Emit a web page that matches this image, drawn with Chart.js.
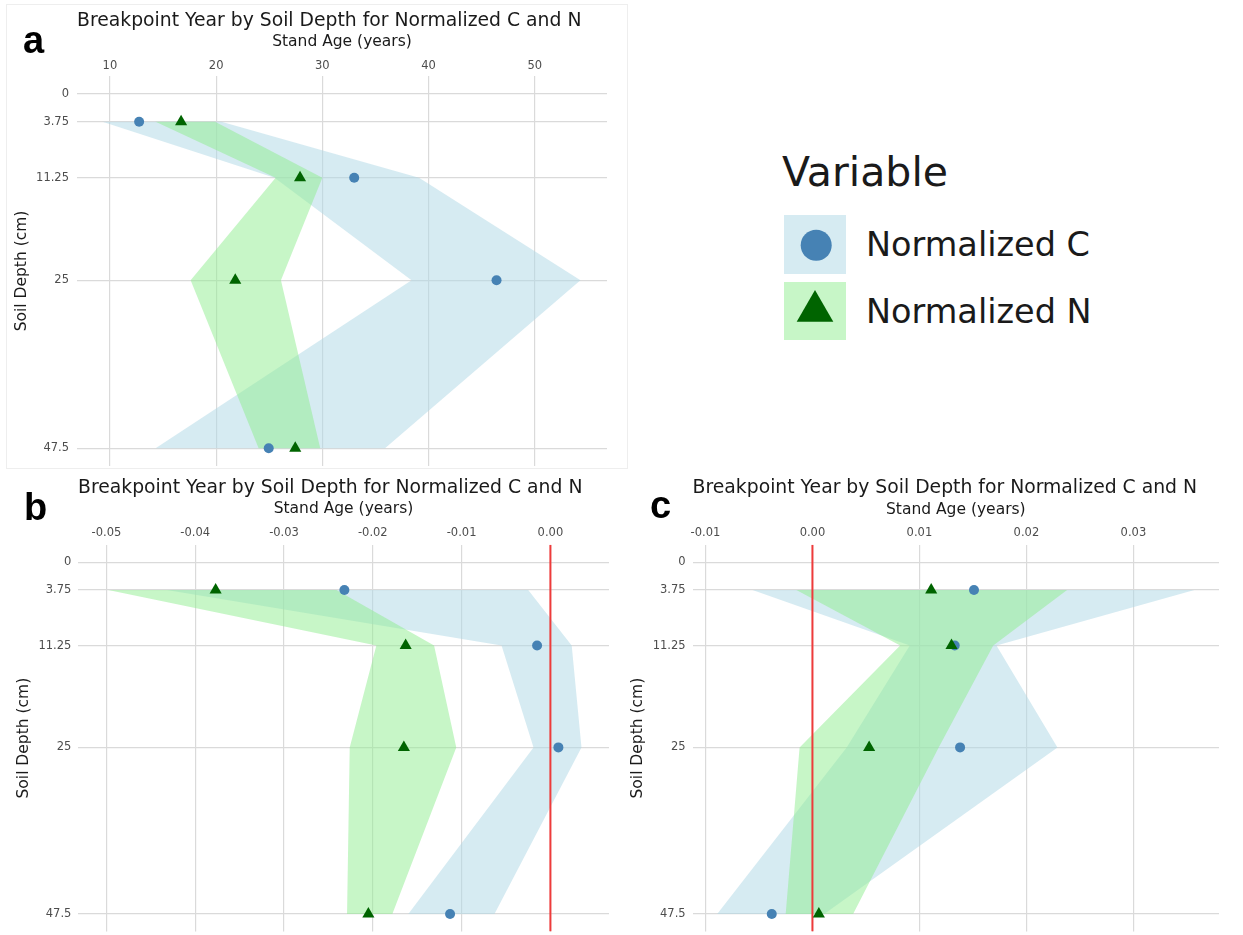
<!DOCTYPE html>
<html>
<head>
<meta charset="utf-8">
<script src="https://cdn.jsdelivr.net/npm/chart.js@4.4.1/dist/chart.umd.min.js"></script>
<style>
  body { margin: 0; background: #fff; width: 1243px; height: 935px; position: relative; overflow: hidden; font-family: "DejaVu Sans", sans-serif; }
  canvas { position: absolute; }
  .tag { position: absolute; font-family: "Liberation Sans", Arial, sans-serif; font-weight: bold; font-size: 38px; line-height: 38px; color: #000; }
  .lg { position: absolute; color: #1a1a1a; white-space: nowrap; }
  .key { position: absolute; width: 62px; }
  .frame { position: absolute; border: 1px solid #eeeeee; }
</style>
</head>
<body>
<div class="frame" style="left:6px;top:4px;width:620px;height:463px"></div>
<canvas id="pa" width="620" height="470" style="left:0;top:0"></canvas>
<canvas id="pb" width="620" height="465" style="left:0;top:470px"></canvas>
<canvas id="pc" width="623" height="465" style="left:620px;top:470px"></canvas>

<div class="tag" style="left:23px;top:21px">a</div>
<div class="tag" style="left:24px;top:488px">b</div>
<div class="tag" style="left:650px;top:486px">c</div>

<!-- legend -->
<div class="lg" style="left:782px;top:152px;font-size:41px;line-height:41px">Variable</div>
<div class="key" style="left:784px;top:215px;height:59px;background:rgba(173,216,230,0.5)">
  <svg width="62" height="59"><circle cx="32.2" cy="30.3" r="15.5" fill="#4682B4"/></svg>
</div>
<div class="key" style="left:784px;top:282px;height:58px;background:rgba(144,238,144,0.5)">
  <svg width="62" height="58"><polygon points="31,8 12.7,39.7 49.3,39.7" fill="#006400"/></svg>
</div>
<div class="lg" style="left:866px;top:228px;font-size:33.5px;line-height:33.5px">Normalized C</div>
<div class="lg" style="left:866px;top:295px;font-size:33.5px;line-height:33.5px">Normalized N</div>

<script>
// soil depths (cm) and the y-axis ticks
const depths = [3.75, 11.25, 25, 47.5];
const depthTicks = [0, 3.75, 11.25, 25, 47.5];
const depthLabels = ["0", "3.75", "11.25", "25", "47.5"];
const depthMin = -2.375;
const depthMax = 49.875;

// panel a
const aTicks = [10, 20, 30, 40, 50];
const aTickLabels = ["10", "20", "30", "40", "50"];
const aCarbon = [12.75, 33.0, 46.4, 24.95];
const aNitrogen = [16.7, 27.9, 21.8, 27.45];
const aCarbonLow = [9.3, 25.5, 38.4, 14.3];
const aCarbonHigh = [20.5, 39.1, 54.3, 35.9];
const aNitrogenLow = [14.3, 25.6, 17.6, 24.0];
const aNitrogenHigh = [19.9, 30.0, 26.1, 29.8];

// panel b
const bTicks = [-0.05, -0.04, -0.03, -0.02, -0.01, 0];
const bTickLabels = ["-0.05", "-0.04", "-0.03", "-0.02", "-0.01", "0.00"];
const bCarbon = [-0.0232, -0.0015, 0.0009, -0.0113];
const bNitrogen = [-0.0377, -0.0163, -0.0165, -0.0205];
const bCarbonLow = [-0.0432, -0.0055, -0.0019, -0.0160];
const bCarbonHigh = [-0.0025, 0.0024, 0.0035, -0.0063];
const bNitrogenLow = [-0.0498, -0.0196, -0.0226, -0.0229];
const bNitrogenHigh = [-0.0241, -0.0131, -0.0106, -0.0178];

// panel c
const cTicks = [-0.01, 0, 0.01, 0.02, 0.03];
const cTickLabels = ["-0.01", "0.00", "0.01", "0.02", "0.03"];
const cCarbon = [0.0151, 0.0133, 0.0138, -0.0038];
const cNitrogen = [0.0111, 0.0130, 0.0053, 0.0006];
const cCarbonLow = [-0.0056, 0.0091, 0.0032, -0.0089];
const cCarbonHigh = [0.0357, 0.0172, 0.0229, 0.0011];
const cNitrogenLow = [-0.0015, 0.0082, -0.0012, -0.0025];
const cNitrogenHigh = [0.0238, 0.0169, 0.0118, 0.0038];

const zeroLine = [0];

Chart.defaults.font.family = "DejaVu Sans";

function points(values) {
  return values.map((v, i) => ({ x: v, y: depths[i] }));
}

// lower edge down, upper edge back up -> closed polygon
function ribbon(low, high) {
  const pts = points(low);
  for (let i = high.length - 1; i >= 0; i--) pts.push({ x: high[i], y: depths[i] });
  return pts;
}

// keep label overhang from shrinking the plot area
function noPadding(axis) {
  axis.paddingLeft = 0;
  axis.paddingRight = 0;
  axis.paddingTop = 0;
  axis.paddingBottom = 0;
}

function makePanel(id, p) {
  const datasets = [
    {
      label: "Normalized N",
      data: points(p.n),
      showLine: false,
      pointStyle: "triangle",
      pointRadius: 7,
      pointBackgroundColor: "#006400",
      pointBorderWidth: 0,
    },
    {
      label: "Normalized C",
      data: points(p.c),
      showLine: false,
      pointStyle: "circle",
      pointRadius: 5,
      pointBackgroundColor: "#4682B4",
      pointBorderWidth: 0,
    },
  ];
  if (p.ref) {
    datasets.push({
      data: [{ x: zeroLine[0], y: depthMin }, { x: zeroLine[0], y: depthMax }],
      borderColor: "#ee3b3b",
      borderWidth: 2,
      pointRadius: 0,
      fill: false,
    });
  }
  datasets.push(
    {
      data: ribbon(p.nLo, p.nHi),
      backgroundColor: "rgba(144,238,144,0.5)",
      borderColor: "rgba(0,0,0,0)",
      borderWidth: 0,
      pointRadius: 0,
      fill: "shape",
    },
    {
      data: ribbon(p.cLo, p.cHi),
      backgroundColor: "rgba(173,216,230,0.5)",
      borderColor: "rgba(0,0,0,0)",
      borderWidth: 0,
      pointRadius: 0,
      fill: "shape",
    }
  );

  const g = p.geom;
  new Chart(document.getElementById(id), {
    type: "line",
    data: { datasets },
    options: {
      responsive: false,
      animation: false,
      events: [],
      devicePixelRatio: 1,
      layout: {
        autoPadding: false,
        padding: { left: 0, top: g.padTop, right: g.padRight, bottom: g.padBottom },
      },
      plugins: {
        legend: { display: false },
        tooltip: { enabled: false },
        title: {
          display: true,
          text: "Breakpoint Year by Soil Depth for Normalized C and N",
          align: "start",
          fullSize: false,
          color: "#1a1a1a",
          font: { size: 18.8, weight: "normal", lineHeight: 1.2 },
          padding: { top: 0, bottom: 0 },
        },
      },
      scales: {
        x: {
          type: "linear",
          position: "top",
          min: p.xMin,
          max: p.xMax,
          afterBuildTicks: (axis) => { axis.ticks = p.ticks.map((v) => ({ value: v })); },
          afterFit: (axis) => { axis.height = g.xAxisH; noPadding(axis); },
          ticks: {
            autoSkip: false,
            maxRotation: 0,
            padding: g.tickPad,
            color: "#4d4d4d",
            font: { size: 11.5 },
            callback: (v, i) => p.tickLabels[i],
          },
          grid: { color: "#dadada", lineWidth: 1.2, drawTicks: false },
          border: { display: false },
          title: {
            display: true,
            text: "Stand Age (years)",
            color: "#1a1a1a",
            font: { size: 15.5, lineHeight: 1.2 },
            padding: { top: g.xTitlePad, bottom: 0 },
          },
        },
        y: {
          type: "linear",
          reverse: true,
          min: depthMin,
          max: depthMax,
          afterBuildTicks: (axis) => { axis.ticks = depthTicks.map((v) => ({ value: v })); },
          afterFit: (axis) => { axis.width = g.yAxisW; noPadding(axis); },
          ticks: {
            autoSkip: false,
            padding: g.yTickPad,
            color: "#4d4d4d",
            font: { size: 11.5 },
            callback: (v, i) => depthLabels[i],
          },
          grid: { color: "#dadada", lineWidth: 1.2, drawTicks: false },
          border: { display: false },
          title: {
            display: true,
            text: "Soil Depth (cm)",
            color: "#1a1a1a",
            font: { size: 15.5, lineHeight: 1.2 },
            padding: { top: g.yTitlePad, bottom: 0 },
          },
        },
      },
    },
  });
}

makePanel("pa", {
  ticks: aTicks, tickLabels: aTickLabels, xMin: 6.9, xMax: 56.8,
  c: aCarbon, n: aNitrogen, cLo: aCarbonLow, cHi: aCarbonHigh, nLo: aNitrogenLow, nHi: aNitrogenHigh,
  ref: false,
  geom: { padTop: 9.4, padRight: 13, padBottom: 4, xAxisH: 44.0, tickPad: 3.4, xTitlePad: 1.0, yAxisW: 77, yTickPad: 8, yTitlePad: 12.4 },
});

makePanel("pb", {
  ticks: bTicks, tickLabels: bTickLabels, xMin: -0.0532, xMax: 0.0066,
  c: bCarbon, n: bNitrogen, cLo: bCarbonLow, cHi: bCarbonHigh, nLo: bNitrogenLow, nHi: bNitrogenHigh,
  ref: true,
  geom: { padTop: 7.0, padRight: 11, padBottom: 3.4, xAxisH: 45.1, tickPad: 4.5, xTitlePad: 0.4, yAxisW: 78, yTickPad: 6.6, yTitlePad: 14.5 },
});

makePanel("pc", {
  ticks: cTicks, tickLabels: cTickLabels, xMin: -0.0112, xMax: 0.0380,
  c: cCarbon, n: cNitrogen, cLo: cCarbonLow, cHi: cCarbonHigh, nLo: cNitrogenLow, nHi: cNitrogenHigh,
  ref: true,
  geom: { padTop: 7.0, padRight: 24, padBottom: 3.4, xAxisH: 45.1, tickPad: 4.5, xTitlePad: 1.1, yAxisW: 72.6, yTickPad: 7, yTitlePad: 8.6 },
});
</script>
</body>
</html>
